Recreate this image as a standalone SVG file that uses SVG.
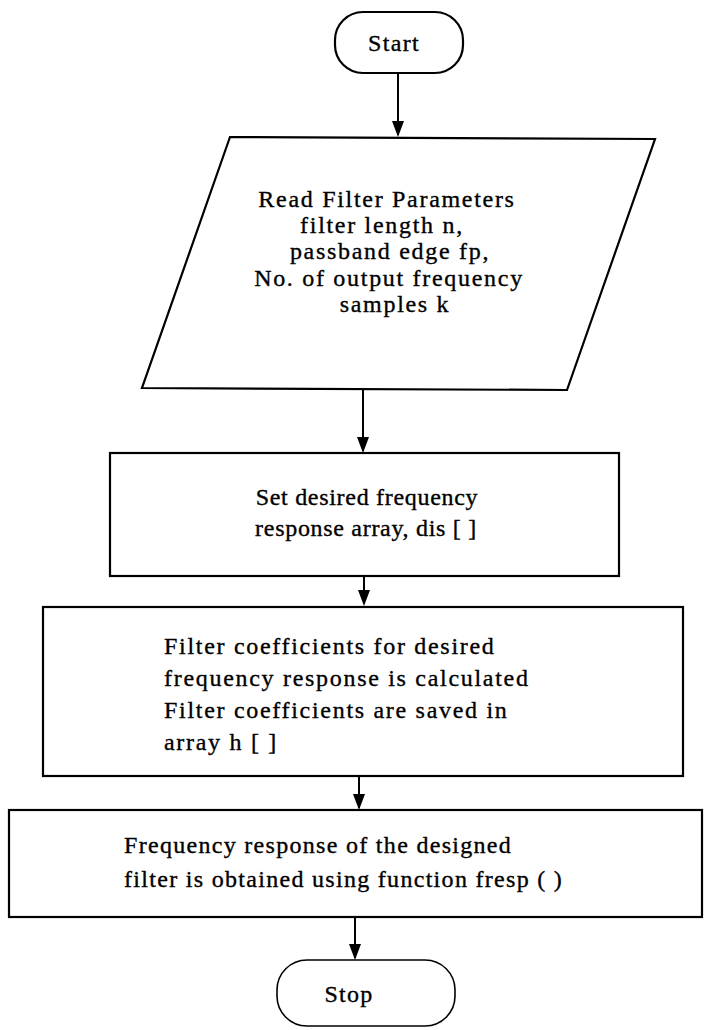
<svg xmlns="http://www.w3.org/2000/svg" width="704" height="1030" viewBox="0 0 704 1030">
  <style>
    .shape { fill: #fff; stroke: #000; stroke-width: 2.2; }
    .thin { stroke-width: 1.6; }
    .lbl { font-family: "Liberation Serif", "Times New Roman", serif; font-size: 24px; fill: #000; stroke: #000; stroke-width: 0.35; }
    .mid { text-anchor: middle; }
    .wide { letter-spacing: 1.7px; }
    .tight { letter-spacing: 0.7px; }
    .med { letter-spacing: 1.3px; }
    .conn line { stroke: #000; stroke-width: 2; }
  </style>
  <defs>
    <marker id="arrow" viewBox="0 0 16 12" refX="14" refY="6" markerWidth="16" markerHeight="12" markerUnits="userSpaceOnUse" orient="auto">
      <path d="M0,0 L16,6 L0,12 z" fill="#000"/>
    </marker>
  </defs>
  <rect width="704" height="1030" fill="#fff"/>

  <!-- flow connectors -->
  <g id="connectors" class="conn">
    <line x1="398" y1="73" x2="398" y2="135" marker-end="url(#arrow)"/>
    <line x1="363" y1="390" x2="363" y2="451" marker-end="url(#arrow)"/>
    <line x1="364" y1="576" x2="364" y2="604" marker-end="url(#arrow)"/>
    <line x1="359" y1="776" x2="359" y2="808" marker-end="url(#arrow)"/>
    <line x1="355" y1="917" x2="355" y2="958" marker-end="url(#arrow)"/>
  </g>

  <!-- terminal: start -->
  <g id="start">
    <rect class="shape" x="335" y="12" width="128" height="61" rx="28" ry="28"/>
    <text class="lbl mid med" x="394" y="51">Start</text>
  </g>

  <!-- input: filter parameters -->
  <g id="read-params">
    <polygon class="shape" points="230,137 655,139 567,390 142,388"/>
    <text class="lbl mid wide" x="387" y="207">Read Filter Parameters</text>
    <text class="lbl mid wide" x="382" y="233">filter length n,</text>
    <text class="lbl mid wide" x="390" y="259">passband edge fp,</text>
    <text class="lbl mid wide" x="389" y="286">No. of output frequency</text>
    <text class="lbl mid wide" x="395" y="312">samples k</text>
  </g>

  <!-- process: desired response -->
  <g id="set-desired">
    <rect class="shape" x="110" y="453" width="509" height="123"/>
    <text class="lbl mid tight" x="367" y="505">Set desired frequency</text>
    <text class="lbl mid tight" x="366" y="536">response array, dis [  ]</text>
  </g>

  <!-- process: coefficients -->
  <g id="coefficients">
    <rect class="shape" x="43" y="607" width="640" height="169"/>
    <text class="lbl wide" x="164" y="654">Filter coefficients for desired</text>
    <text class="lbl wide" x="164" y="686">frequency response is calculated</text>
    <text class="lbl wide" x="164" y="718">Filter coefficients are saved in</text>
    <text class="lbl wide" x="164" y="750">array h [  ]</text>
  </g>

  <!-- process: frequency response -->
  <g id="freq-response">
    <rect class="shape" x="9" y="810" width="693" height="107"/>
    <text class="lbl med" x="124" y="853">Frequency response of the designed</text>
    <text class="lbl med" x="124" y="887">filter is obtained using function fresp ( )</text>
  </g>

  <!-- terminal: stop -->
  <g id="stop">
    <rect class="shape thin" x="277" y="960" width="178" height="66" rx="30" ry="30"/>
    <text class="lbl mid med" x="349" y="1002">Stop</text>
  </g>
</svg>
